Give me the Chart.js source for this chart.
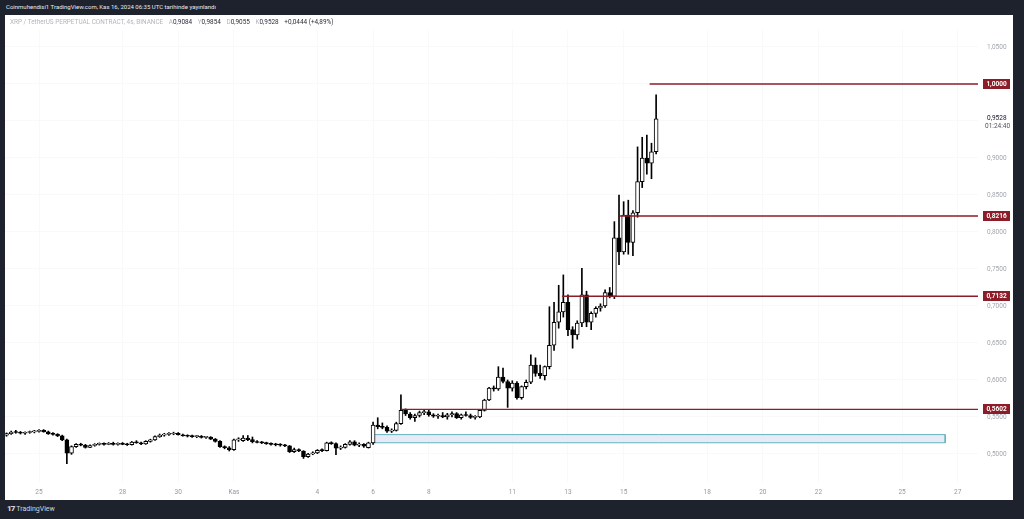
<!DOCTYPE html>
<html>
<head>
<meta charset="utf-8">
<script src="https://cdn.jsdelivr.net/npm/chart.js@4.4.1/dist/chart.umd.min.js"></script>
<style>
  html, body { margin:0; padding:0; }
  body { width:1024px; height:519px; background:#1e222d; position:relative; overflow:hidden;
         font-family: Roboto, "Noto Sans", "DejaVu Sans", sans-serif; }
  #top { position:absolute; left:6px; top:3px; color:#e8eaf0; font-size:6px; white-space:nowrap; }
  #panel { position:absolute; left:5px; top:15px; width:1008px; height:485px; background:#fff; }
  #legend { position:absolute; left:5px; top:3px; font-size:6.4px; white-space:nowrap; color:#b2b5be; z-index:2; }
  #legend b { font-weight:normal; color:#2a2e39; }
  #legend .k { margin-left:4px; }
  #foot { position:absolute; left:7px; top:504px; color:#d1d4dc; font-size:7px; white-space:nowrap; }
  #foot .logo { font-weight:900; font-size:8px; margin-right:2px; letter-spacing:-1px; }
  canvas { position:absolute; left:0; top:0; }
</style>
</head>
<body>
<div id="top">Coinmuhendisi1 TradingView.com, Kas 16, 2024 06:35 UTC tarihinde yayınlandı</div>
<div id="panel">
  <div id="legend">XRP / TetherUS PERPETUAL CONTRACT, 4s, BINANCE
    <span class="k">A</span><b>0,9084</b>
    <span class="k">Y</span><b>0,9854</b>
    <span class="k">D</span><b>0,9055</b>
    <span class="k">K</span><b>0,9528</b>
    <b class="k">+0,0444 (+4,89%)</b></div>
  <canvas id="chart" width="1008" height="485"></canvas>
</div>
<div id="foot"><span class="logo">17</span>TradingView</div>

<script>
// 4h candles, slot 0 = 25 Eki 00:00, first candle at slot -7
const firstSlot = -7;
const opens = [
  0.5255,0.5275,0.5295,0.5290,0.5280,0.5290,0.5300,0.5305,0.5320,0.5300,
  0.5270,0.5265,0.5245,0.5190,0.5010,0.5100,0.5130,0.5120,0.5090,0.5115,
  0.5130,0.5140,0.5130,0.5145,0.5130,0.5140,0.5130,0.5125,0.5160,0.5150,
  0.5135,0.5170,0.5190,0.5235,0.5255,0.5265,0.5270,0.5280,0.5260,0.5245,
  0.5240,0.5235,0.5240,0.5225,0.5230,0.5200,0.5170,0.5100,0.5085,0.5060,
  0.5190,0.5180,0.5215,0.5195,0.5165,0.5155,0.5150,0.5140,0.5130,0.5125,
  0.5120,0.5110,0.5030,0.5060,0.5040,0.4965,0.5000,0.5015,0.5050,0.5045,
  0.5150,0.5140,0.5080,0.5090,0.5130,0.5165,0.5120,0.5130,0.5085,0.5150,
  0.5390,0.5370,0.5360,0.5310,0.5320,0.5410,0.5590,0.5540,0.5490,0.5520,
  0.5560,0.5570,0.5530,0.5510,0.5520,0.5500,0.5530,0.5545,0.5490,0.5530,
  0.5520,0.5495,0.5500,0.5590,0.5730,0.5890,0.5880,0.6040,0.5980,0.5890,
  0.5960,0.5760,0.5910,0.5970,0.6200,0.6090,0.6060,0.6180,0.6470,0.6780,
  0.6920,0.7050,0.6680,0.6610,0.6770,0.7150,0.6780,0.6900,0.6970,0.7000,
  0.7180,0.7130,0.7920,0.7730,0.8230,0.7860,0.8260,0.8680,0.9000,0.8930,
  0.9084
];
const highs = [
  0.5285,0.5310,0.5320,0.5305,0.5300,0.5310,0.5320,0.5330,0.5330,0.5310,
  0.5290,0.5275,0.5255,0.5200,0.5110,0.5140,0.5145,0.5130,0.5125,0.5140,
  0.5150,0.5150,0.5155,0.5160,0.5150,0.5155,0.5145,0.5170,0.5180,0.5160,
  0.5180,0.5200,0.5245,0.5270,0.5280,0.5290,0.5295,0.5290,0.5270,0.5260,
  0.5255,0.5250,0.5250,0.5240,0.5235,0.5210,0.5180,0.5110,0.5100,0.5200,
  0.5220,0.5250,0.5250,0.5230,0.5180,0.5170,0.5160,0.5150,0.5145,0.5140,
  0.5130,0.5115,0.5080,0.5070,0.5045,0.5010,0.5030,0.5060,0.5070,0.5160,
  0.5165,0.5150,0.5110,0.5140,0.5180,0.5180,0.5150,0.5140,0.5160,0.5430,
  0.5490,0.5420,0.5380,0.5340,0.5430,0.5800,0.5610,0.5560,0.5540,0.5580,
  0.5600,0.5590,0.5545,0.5540,0.5560,0.5550,0.5570,0.5560,0.5540,0.5570,
  0.5540,0.5520,0.5600,0.5740,0.5900,0.5920,0.6180,0.6160,0.6000,0.5990,
  0.5980,0.5920,0.6000,0.6340,0.6300,0.6200,0.6190,0.6990,0.7050,0.7280,
  0.7420,0.7150,0.6720,0.6800,0.7510,0.7200,0.6920,0.6990,0.7030,0.7220,
  0.7250,0.8140,0.8500,0.8410,0.8430,0.8290,0.9150,0.9280,0.9310,0.9200,
  0.9854
];
const lows = [
  0.5240,0.5265,0.5280,0.5270,0.5265,0.5280,0.5285,0.5295,0.5295,0.5265,
  0.5255,0.5235,0.5180,0.4870,0.4995,0.5090,0.5110,0.5080,0.5085,0.5105,
  0.5120,0.5120,0.5125,0.5120,0.5120,0.5125,0.5115,0.5120,0.5145,0.5125,
  0.5130,0.5160,0.5185,0.5225,0.5240,0.5250,0.5260,0.5255,0.5240,0.5230,
  0.5225,0.5220,0.5215,0.5210,0.5195,0.5160,0.5090,0.5070,0.5040,0.5050,
  0.5170,0.5170,0.5180,0.5150,0.5150,0.5140,0.5130,0.5120,0.5110,0.5105,
  0.5100,0.5020,0.5020,0.5030,0.4940,0.4955,0.4990,0.5005,0.5030,0.5040,
  0.5130,0.4990,0.5060,0.5080,0.5120,0.5110,0.5100,0.5090,0.5080,0.5130,
  0.5340,0.5340,0.5290,0.5290,0.5310,0.5400,0.5520,0.5470,0.5440,0.5500,
  0.5530,0.5510,0.5495,0.5480,0.5490,0.5470,0.5500,0.5480,0.5470,0.5510,
  0.5480,0.5470,0.5490,0.5580,0.5720,0.5850,0.5860,0.5960,0.5630,0.5850,
  0.5740,0.5740,0.5880,0.5950,0.6050,0.6020,0.6000,0.6150,0.6400,0.6700,
  0.6850,0.6600,0.6430,0.6550,0.6720,0.6720,0.6680,0.6850,0.6930,0.6980,
  0.7110,0.7100,0.7560,0.7700,0.7700,0.7680,0.8200,0.8600,0.8780,0.8720,
  0.9055
];
const closes = [
  0.5275,0.5295,0.5290,0.5280,0.5290,0.5300,0.5310,0.5320,0.5300,0.5270,
  0.5265,0.5245,0.5190,0.5010,0.5100,0.5130,0.5120,0.5090,0.5115,0.5130,
  0.5140,0.5130,0.5145,0.5130,0.5140,0.5130,0.5125,0.5160,0.5150,0.5135,
  0.5170,0.5190,0.5235,0.5255,0.5265,0.5270,0.5280,0.5260,0.5245,0.5240,
  0.5235,0.5240,0.5225,0.5230,0.5200,0.5170,0.5100,0.5085,0.5060,0.5190,
  0.5200,0.5215,0.5195,0.5165,0.5155,0.5150,0.5140,0.5130,0.5125,0.5120,
  0.5110,0.5030,0.5060,0.5040,0.4965,0.5000,0.5015,0.5050,0.5045,0.5150,
  0.5140,0.5080,0.5090,0.5130,0.5165,0.5120,0.5130,0.5105,0.5150,0.5390,
  0.5370,0.5360,0.5310,0.5320,0.5410,0.5590,0.5540,0.5490,0.5520,0.5560,
  0.5570,0.5530,0.5510,0.5520,0.5500,0.5530,0.5545,0.5490,0.5530,0.5520,
  0.5495,0.5500,0.5590,0.5730,0.5890,0.5880,0.6040,0.5980,0.5890,0.5960,
  0.5760,0.5910,0.5970,0.6200,0.6090,0.6060,0.6180,0.6470,0.6780,0.6920,
  0.7050,0.6680,0.6610,0.6770,0.7150,0.6780,0.6900,0.6970,0.7000,0.7180,
  0.7130,0.7920,0.7730,0.8230,0.7860,0.8260,0.8680,0.9000,0.8930,0.9084,
  0.9528
];

const tickSlots  = [0, 18, 30, 42, 60, 72, 84, 102, 114, 126, 144, 156, 168, 186, 198];
const tickLabels = ["25","28","30","Kas","4","6","8","11","13","15","18","20","22","25","27"];
const priceTicks = [0.50,0.55,0.60,0.65,0.70,0.75,0.80,0.85,0.90,0.95,1.00,1.05];
const hiddenPriceLabels = [0.95]; // covered by the last-price label

// horizontal levels drawn on the chart
const levelPrices = [1.0000, 0.8216, 0.7132, 0.5602];
const levelStarts = [131.6, 125.2, 112.7, 78.2];
// support zone box
const zoneTop = 0.5262, zoneBottom = 0.5152, zoneStart = 71.8, zoneEnd = 195.3;

const lastPrice = 0.9528;
const countdown = "01:24:40";

const xMin = -7.33, xMax = 202.37;
const yMin = 0.46216, yMax = 1.07297;

const fmt = v => v.toFixed(4).replace(".", ",");
const levelRed = "#8c1c27";

const slots = opens.map((_, i) => firstSlot + i);
const bodyData = slots.map((s, i) => ({ x: s, y: [opens[i], closes[i]] }));
const wickData = slots.map((s, i) => ({ x: s, y: [lows[i], highs[i]] }));
const bodyFill = slots.map((s, i) => closes[i] >= opens[i] ? "#ffffff" : "#000000");

const levelSets = levelPrices.map((p, i) => ({
  type: "line",
  data: [{ x: levelStarts[i], y: p }, { x: xMax, y: p }],
  borderColor: levelRed, borderWidth: 1.3, pointRadius: 0, order: 0
}));

const axisLabels = {
  id: "axisLabels",
  afterDraw(chart){
    const { ctx, chartArea, scales: { y } } = chart;
    ctx.save();
    ctx.font = "bold 6.5px Roboto, sans-serif";
    ctx.textBaseline = "middle";
    levelPrices.forEach(p => {
      const py = Math.round(y.getPixelForValue(p));
      ctx.fillStyle = levelRed;
      ctx.fillRect(chartArea.right + 5, py - 5, 27, 10);
      ctx.fillStyle = "#ffffff";
      ctx.textAlign = "center";
      ctx.fillText(fmt(p), chartArea.right + 18.5, py + 0.5);
    });
    const ly = y.getPixelForValue(lastPrice);
    ctx.textAlign = "left";
    ctx.fillStyle = "#131722";
    ctx.font = "6.5px Roboto, sans-serif";
    ctx.fillText(fmt(lastPrice), chartArea.right + 9, ly - 1);
    ctx.fillStyle = "#50535e";
    ctx.fillText(countdown, chartArea.right + 7, ly + 7);
    ctx.restore();
  }
};

new Chart(document.getElementById("chart"), {
  type: "bar",
  data: {
    datasets: [
      { data: bodyData, backgroundColor: bodyFill, borderColor: "#000000", borderWidth: 1,
        borderSkipped: false, barThickness: 4, minBarLength: 1, grouped: false, order: 1 },
      { data: wickData, backgroundColor: "#000000", borderWidth: 0,
        barThickness: 1, grouped: false, order: 2 },
      ...levelSets,
      { type: "line", data: [{ x: zoneStart, y: zoneTop }, { x: zoneEnd, y: zoneTop }],
        fill: { value: zoneBottom }, backgroundColor: "rgba(228,230,246,0.85)",
        borderWidth: 0, pointRadius: 0, order: 6 },
      { type: "line",
        data: [{ x: zoneStart, y: zoneBottom }, { x: zoneStart, y: zoneTop }, { x: zoneEnd, y: zoneTop },
               { x: zoneEnd, y: zoneBottom }, { x: zoneStart, y: zoneBottom }],
        borderColor: "#64b4bd", borderWidth: 1, pointRadius: 0, fill: false, order: 5 }
    ]
  },
  options: {
    responsive: false,
    animation: false,
    devicePixelRatio: 1,
    layout: { padding: { top: 15, left: 0, right: 0, bottom: 0 } },
    plugins: { legend: { display: false }, tooltip: { enabled: false } },
    scales: {
      x: {
        type: "linear", min: xMin, max: xMax, offset: false,
        grid: { color: "#f8f9fb", drawTicks: false, offset: false },
        border: { display: false },
        afterBuildTicks: s => { s.ticks = tickSlots.map(v => ({ value: v })); },
        afterFit: s => { s.height = 18; },
        ticks: {
          autoSkip: false, maxRotation: 0, padding: 6, color: "#9598a1",
          font: { size: 6.5, family: "Roboto" },
          callback: v => tickLabels[tickSlots.indexOf(v)] ?? ""
        }
      },
      y: {
        type: "linear", position: "right", min: yMin, max: yMax,
        grid: { color: "#f8f9fb", drawTicks: false },
        border: { display: false },
        afterBuildTicks: s => { s.ticks = priceTicks.map(v => ({ value: v })); },
        afterFit: s => { s.width = 35; },
        ticks: {
          padding: 9, color: "#a3a6af",
          font: { size: 6.5, family: "Roboto" },
          callback: v => hiddenPriceLabels.includes(v) ? "" : fmt(v)
        }
      }
    }
  },
  plugins: [axisLabels]
});
</script>
</body>
</html>
